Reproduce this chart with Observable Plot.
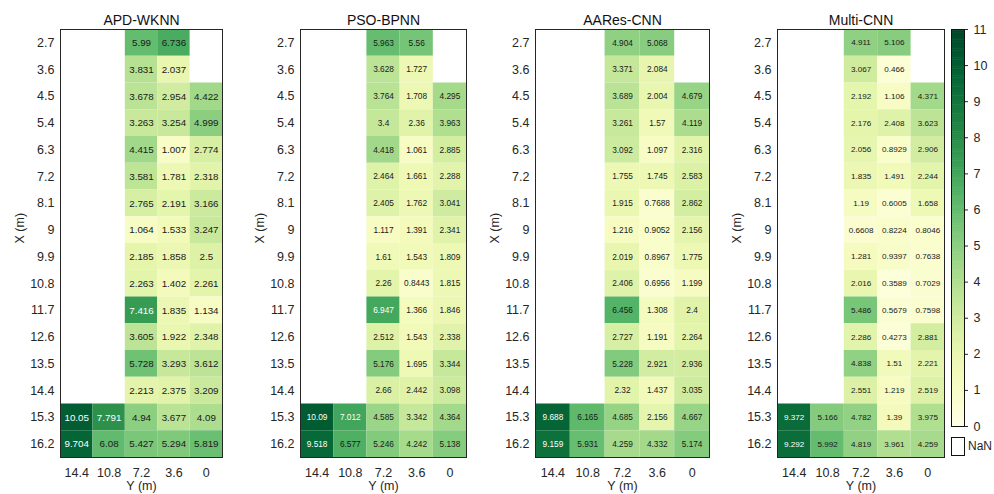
<!DOCTYPE html>
<html>
<head>
<meta charset="utf-8">
<script src="https://cdn.jsdelivr.net/npm/d3@7"></script>
<script src="https://cdn.jsdelivr.net/npm/@observablehq/plot@0.6"></script>
<style>
  html, body { margin: 0; padding: 0; background: #fff; }
  #root { position: relative; width: 994px; height: 494px; overflow: hidden; font-family: "Liberation Sans", Arial, sans-serif; color: #262626; }
  #root svg { position: absolute; top: 0; }
  .nanbox { position: absolute; left: 951px; top: 437px; width: 12px; height: 17px; border: 1px solid #111; }
  .nanlbl { position: absolute; left: 968px; top: 438px; font-size: 12px; line-height: 16px; white-space: nowrap; }
</style>
</head>
<body>
<div id="root"></div>
<script>
// Rows (X, m) and columns (Y, m)
const rows = ["2.7","3.6","4.5","5.4","6.3","7.2","8.1","9","9.9","10.8","11.7","12.6","13.5","14.4","15.3","16.2"];
const cols = ["14.4","10.8","7.2","3.6","0"];
const bottomRows = ["15.3","16.2"];
const titles = ["APD-WKNN","PSO-BPNN","AARes-CNN","Multi-CNN"];
const cbTicks = [0,1,2,3,4,5,6,7,8,9,10,11];

// APD-WKNN
const apdC144 = [10.05, 9.704];
const apdC108 = [7.791, 6.08];
const apdC72 = [5.99,3.831,3.678,3.263,4.415,3.581,2.765,1.064,2.185,2.263,7.416,3.605,5.728,2.213,4.94,5.427];
const apdC36 = [6.736,2.037,2.954,3.254,1.007,1.781,2.191,1.533,1.858,1.402,1.835,1.922,3.293,2.375,3.677,5.294];
const apdC0  = [null,null,4.422,4.999,2.774,2.318,3.166,3.247,2.5,2.261,1.134,2.348,3.612,3.209,4.09,5.819];

// PSO-BPNN
const psoC144 = [10.09, 9.518];
const psoC108 = [7.012, 6.577];
const psoC72 = [5.963,3.628,3.764,3.4,4.418,2.464,2.405,1.117,1.61,2.26,6.947,2.512,5.176,2.66,4.585,5.246];
const psoC36 = [5.56,1.727,1.708,2.36,1.061,1.661,1.762,1.391,1.543,0.8443,1.366,1.543,1.695,2.442,3.342,4.242];
const psoC0  = [null,null,4.295,3.963,2.885,2.288,3.041,2.341,1.809,1.815,1.846,2.338,3.344,3.098,4.364,5.138];

// AARes-CNN
const aarC144 = [9.688, 9.159];
const aarC108 = [6.165, 5.931];
const aarC72 = [4.904,3.371,3.689,3.261,3.092,1.755,1.915,1.216,2.019,2.406,6.456,2.727,5.228,2.32,4.685,4.259];
const aarC36 = [5.068,2.084,2.004,1.57,1.097,1.745,0.7688,0.9052,0.8967,0.6956,1.308,1.191,2.921,1.437,2.156,4.332];
const aarC0  = [null,null,4.679,4.119,2.316,2.583,2.862,2.156,1.775,1.199,2.4,2.264,2.936,3.035,4.667,5.174];

// Multi-CNN
const mulC144 = [9.372, 9.292];
const mulC108 = [5.166, 5.992];
const mulC72 = [4.911,3.067,2.192,2.176,2.056,1.835,1.19,0.6608,1.281,2.016,5.486,2.286,4.838,2.551,4.782,4.819];
const mulC36 = [5.106,0.466,1.106,2.408,0.8929,1.491,0.6005,0.8224,0.9397,0.3589,0.5679,0.4273,1.51,1.219,1.39,3.961];
const mulC0  = [null,null,4.371,3.623,2.906,2.244,1.658,0.8046,0.7638,0.7029,0.7598,2.881,2.221,2.519,3.975,4.259];

function build(c144, c108, c72, c36, c0) {
  const out = [];
  [["14.4", c144, bottomRows], ["10.8", c108, bottomRows], ["7.2", c72, rows], ["3.6", c36, rows], ["0", c0, rows]]
    .forEach(([col, vals, rs]) => vals.forEach((v, i) => { if (v != null) out.push({col, row: rs[i], v}); }));
  return out;
}

const datasets = [
  build(apdC144, apdC108, apdC72, apdC36, apdC0),
  build(psoC144, psoC108, psoC72, psoC36, psoC0),
  build(aarC144, aarC108, aarC72, aarC36, aarC0),
  build(mulC144, mulC108, mulC72, mulC36, mulC0)
];

const geom = [[60, 222, 9.8], [300, 466, 8.3], [535, 709, 8.3], [777, 944, 8.1]];
const colorOpts = {type: "linear", scheme: "ylgn", domain: [0, 11]};
const baseStyle = {fontFamily: "'Liberation Sans', Arial, sans-serif", fontSize: "12.5px", color: "#262626", background: "transparent", overflow: "visible"};
const root = document.getElementById("root");
const ML = 60, MT = 29, MB = 37, H = 494;

datasets.forEach((data, k) => {
  const [left, right, vs] = geom[k];
  const w = right - left;
  const svg = Plot.plot({
    width: ML + w + 2, height: H,
    marginLeft: ML, marginRight: 2, marginTop: MT, marginBottom: MB,
    x: {type: "band", domain: cols, padding: 0, round: false, label: null},
    y: {type: "band", domain: rows, padding: 0, round: false, label: null},
    color: colorOpts,
    style: baseStyle,
    marks: [
      Plot.cell(data, {x: "col", y: "row", fill: "v", inset: 0}),
      Plot.text(data.filter(d => d.v <= 6.8), {x: "col", y: "row", text: d => String(d.v), fill: "#1a1a1a", fontSize: vs}),
      Plot.text(data.filter(d => d.v > 6.8), {x: "col", y: "row", text: d => String(d.v), fill: "white", fontSize: vs}),
      Plot.frame({stroke: "#262626"}),
      Plot.axisX({tickSize: 0, tickPadding: 11, label: null, fontSize: 12.5}),
      Plot.axisY({tickSize: 0, tickPadding: 6, label: null, fontSize: 12.5}),
      Plot.text([titles[k]], {frameAnchor: "top", dy: -5, lineAnchor: "bottom", fontSize: 14, fill: "#111"}),
      Plot.text(["X (m)"], {frameAnchor: "left", dx: -41, rotate: -90, fontSize: 12.5}),
      Plot.text(["Y (m)"], {frameAnchor: "bottom", dy: 32.5, lineAnchor: "bottom", fontSize: 12.5})
    ]
  });
  svg.style.left = (left - ML) + "px";
  root.appendChild(svg);
});

// Colorbar
const step = 0.05;
const stops = d3.range(0, 11, step);
const cb = Plot.plot({
  width: 43, height: H,
  marginLeft: 0, marginRight: 30, marginTop: MT, marginBottom: H - 426,
  x: {domain: [0, 1], axis: null},
  y: {domain: [0, 11], axis: null},
  color: colorOpts,
  style: baseStyle,
  marks: [
    Plot.rect(stops, {x1: 0, x2: 1, y1: d => d, y2: d => Math.min(11, d + step * 1.3), fill: d => d + step / 2, inset: 0}),
    Plot.frame({stroke: "#111"}),
    Plot.axisY({anchor: "right", ticks: cbTicks, tickSize: 3, tickPadding: 6, tickFormat: d => String(d), label: null, fontSize: 12.5})
  ]
});
cb.style.left = "951px";
root.appendChild(cb);

// NaN legend entry
const box = document.createElement("div"); box.className = "nanbox"; root.appendChild(box);
const lbl = document.createElement("div"); lbl.className = "nanlbl"; lbl.textContent = "NaN"; root.appendChild(lbl);
</script>
</body>
</html>
